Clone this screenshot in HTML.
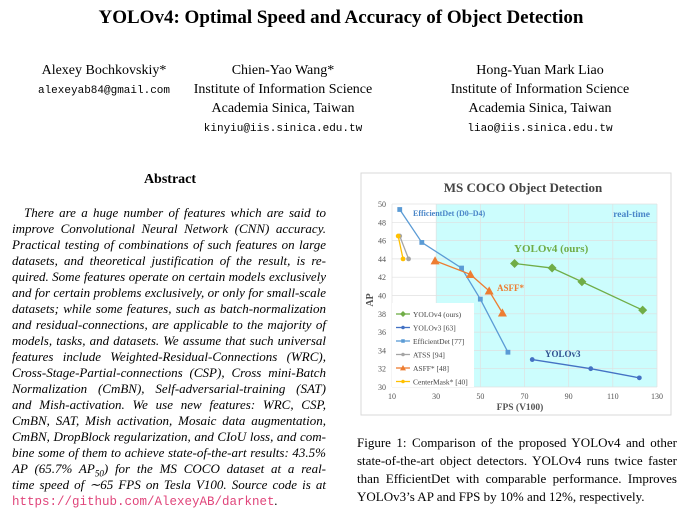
<!DOCTYPE html>
<html><head><meta charset="utf-8"><style>
body{margin:0;width:683px;height:508px;background:#fff;position:relative;overflow:hidden;font-family:"Liberation Serif",serif;color:#000}
.a{position:absolute;white-space:nowrap}
.c{transform:translateX(-50%);text-align:center}
.m{font-family:"Liberation Mono",monospace;font-size:11px}
.ab{position:absolute;left:12px;width:314px;font-style:italic;font-size:13px;text-align:justify;text-align-last:justify;white-space:nowrap;height:16px;line-height:16px}
.cap{position:absolute;left:357px;width:320px;font-size:13px;text-align:justify;text-align-last:justify;white-space:nowrap;line-height:18px}
</style></head><body>
<div class="a c" style="left:341px;top:7px;font-size:19px;font-weight:bold">YOLOv4: Optimal Speed and Accuracy of Object Detection</div>
<div class="a c" style="left:104px;top:61px;font-size:14px;line-height:19px">Alexey Bochkovskiy*<br><span class="m">alexeyab84@gmail.com</span></div>
<div class="a c" style="left:283px;top:61px;font-size:14px;line-height:19px">Chien-Yao Wang*<br>Institute of Information Science<br>Academia Sinica, Taiwan<br><span class="m">kinyiu@iis.sinica.edu.tw</span></div>
<div class="a c" style="left:540px;top:61px;font-size:14px;line-height:19px">Hong-Yuan Mark Liao<br>Institute of Information Science<br>Academia Sinica, Taiwan<br><span class="m">liao@iis.sinica.edu.tw</span></div>
<div class="a c" style="left:170px;top:172px;font-size:14px;font-weight:bold">Abstract</div>
<div>
<div class="ab" style="top:205px;padding-left:12px;width:302px">There are a huge number of features which are said to</div>
<div class="ab" style="top:221px">improve Convolutional Neural Network (CNN) accuracy.</div>
<div class="ab" style="top:237px">Practical testing of combinations of such features on large</div>
<div class="ab" style="top:253px">datasets, and theoretical justification of the result, is re-</div>
<div class="ab" style="top:269px">quired. Some features operate on certain models exclusively</div>
<div class="ab" style="top:285px">and for certain problems exclusively, or only for small-scale</div>
<div class="ab" style="top:301px">datasets; while some features, such as batch-normalization</div>
<div class="ab" style="top:317px">and residual-connections, are applicable to the majority of</div>
<div class="ab" style="top:333px">models, tasks, and datasets. We assume that such universal</div>
<div class="ab" style="top:349px">features include Weighted-Residual-Connections (WRC),</div>
<div class="ab" style="top:365px">Cross-Stage-Partial-connections (CSP), Cross mini-Batch</div>
<div class="ab" style="top:381px">Normalization (CmBN), Self-adversarial-training (SAT)</div>
<div class="ab" style="top:397px">and Mish-activation. We use new features: WRC, CSP,</div>
<div class="ab" style="top:413px">CmBN, SAT, Mish activation, Mosaic data augmentation,</div>
<div class="ab" style="top:429px">CmBN, DropBlock regularization, and CIoU loss, and com-</div>
<div class="ab" style="top:445px">bine some of them to achieve state-of-the-art results: 43.5%</div>
<div class="ab" style="top:461px">AP (65.7% AP<sub style="font-size:9px;line-height:0">50</sub>) for the MS COCO dataset at a real-</div>
<div class="ab" style="top:477px">time speed of ∼65 FPS on Tesla V100. Source code is at</div>
<div class="ab" style="top:493px;text-align-last:left"><span style="font-family:'Liberation Mono',monospace;font-size:12.5px;color:#e0457b;font-style:normal">https://github.com/AlexeyAB/darknet</span>.</div>
</div>
<svg id="chart" width="683" height="508" style="position:absolute;left:0;top:0" font-family="Liberation Serif, serif"></svg>
<div>
<div class="cap" style="top:434px">Figure 1: Comparison of the proposed YOLOv4 and other</div>
<div class="cap" style="top:452px">state-of-the-art object detectors. YOLOv4 runs twice faster</div>
<div class="cap" style="top:470px">than EfficientDet with comparable performance. Improves</div>
<div class="cap" style="top:488px;text-align-last:left">YOLOv3’s AP and FPS by 10% and 12%, respectively.</div>
</div>
<script>
const xTicks=[10,30,50,70,90,110,130];
const yTicks=[30,32,34,36,38,40,42,44,46,48,50];
const yolov4X=[65.5,82.5,96,123.5], yolov4Y=[43.5,43,41.5,38.4];
const yolov3X=[73.5,100,122], yolov3Y=[33,32,31];
const effX=[13.5,23.5,41.5,50,62.5], effY=[49.4,45.8,43,39.6,33.8];
const atssX=[13.5,17.5], atssY=[46.5,44];
const asffX=[29.5,45.5,54,60], asffY=[43.8,42.3,40.5,38.1];
const cmX=[12.8,15], cmY=[46.5,44];
const seriesNames=["YOLOv4 (ours)","YOLOv3 [63]","EfficientDet [77]","ATSS [94]","ASFF* [48]","CenterMask* [40]"];
const X0=392,X1=657,Y0=387,Y1=204;
const sx=v=>X0+(v-10)/120*(X1-X0), sy=v=>Y0-(v-30)/20*(Y0-Y1);
const svg=document.getElementById('chart'),NS='http://www.w3.org/2000/svg';
function mk(t,a,p){const e=document.createElementNS(NS,t);for(const k in a)e.setAttribute(k,a[k]);(p||svg).appendChild(e);return e;}
let e;
e=mk('rect',{x:361,y:173,width:310,height:242,fill:'#fff',stroke:'#d9d9d9'});


e=mk('rect',{x:sx(30),y:Y1,width:X1-sx(30),height:Y0-Y1,fill:'#ccfdfd'});


xTicks.forEach(v=>{const l=mk('line',{x1:sx(v),x2:sx(v),y1:Y1,y2:Y0,stroke:'#e0e0e0','stroke-width':0.7});


const t=mk('text',{x:sx(v),y:Y0+12,'font-size':8,'text-anchor':'middle',fill:'#555'});t.textContent=v;

});
yTicks.forEach(v=>{const l=mk('line',{x1:X0,x2:X1,y1:sy(v),y2:sy(v),stroke:'#e0e0e0','stroke-width':0.7});


const t=mk('text',{x:X0-6,y:sy(v)+3,'font-size':8,'text-anchor':'end',fill:'#555'});t.textContent=v;

});
e=mk('rect',{x:X0,y:303,width:82,height:Y0-303,fill:'#fff'});


function txt(s,x,y,sz,col,name,anchor,rot){const t=mk('text',{x:x,y:y,'font-size':sz,fill:col,'font-weight':'bold','text-anchor':anchor||'start'});if(rot)t.setAttribute('transform','rotate(-90 '+x+' '+y+')');t.textContent=s;

}
txt('MS COCO Object Detection',523,192,13,'#444','chart-title','middle');
txt('FPS (V100)',520,410,9.5,'#555','x-axis-title','middle');
txt('AP',373,300,10,'#555','y-axis-title','middle',true);
txt('EfficientDet (D0–D4)',413,216,8,'#4a86c8','efficientdet-label');
txt('real-time',650,217,9.5,'#4a86c8','real-time-label','end');
txt('YOLOv4 (ours)',514,252,11,'#70ad47','yolov4-label');
txt('ASFF*',497,291,9,'#ed7d31','asff-label');
txt('YOLOv3',545,357,9,'#2e4f8f','yolov3-label');
function marker(shape,x,y,col,s){if(shape==='diamond')return mk('polygon',{points:`${x},${y-s} ${x+s},${y} ${x},${y+s} ${x-s},${y}`,fill:col});
if(shape==='square')return mk('rect',{x:x-s*0.8,y:y-s*0.8,width:s*1.6,height:s*1.6,fill:col});
if(shape==='tri')return mk('polygon',{points:`${x},${y-s} ${x+s},${y+s*0.8} ${x-s},${y+s*0.8}`,fill:col});
return mk('circle',{cx:x,cy:y,r:s*0.8,fill:col});}
const series=[[yolov4X,yolov4Y,'#70ad47','diamond',4.5],[yolov3X,yolov3Y,'#4472c4','circle',3],[effX,effY,'#5b9bd5','square',3],[atssX,atssY,'#a5a5a5','circle',3],[asffX,asffY,'#ed7d31','tri',4.5],[cmX,cmY,'#ffc000','circle',3]];
series.forEach((s,i)=>{const [xs,ys,col,sh,sz]=s;
const p=mk('polyline',{points:xs.map((v,j)=>sx(v)+','+sy(ys[j])).join(' '),fill:'none',stroke:col,'stroke-width':1.3});


xs.forEach((v,j)=>{const m=marker(sh,sx(v),sy(ys[j]),col,sz);

});
const ly=314+i*13.5;
const ll=mk('line',{x1:396,x2:410,y1:ly,y2:ly,stroke:col,'stroke-width':1.3});


const lm=marker(sh,403,ly,col,sh==='diamond'||sh==='tri'?3:2.2);


const t=mk('text',{x:413,y:ly+3,'font-size':7.5,fill:'#444'});t.textContent=seriesNames[i];

});
</script>
</body></html>
